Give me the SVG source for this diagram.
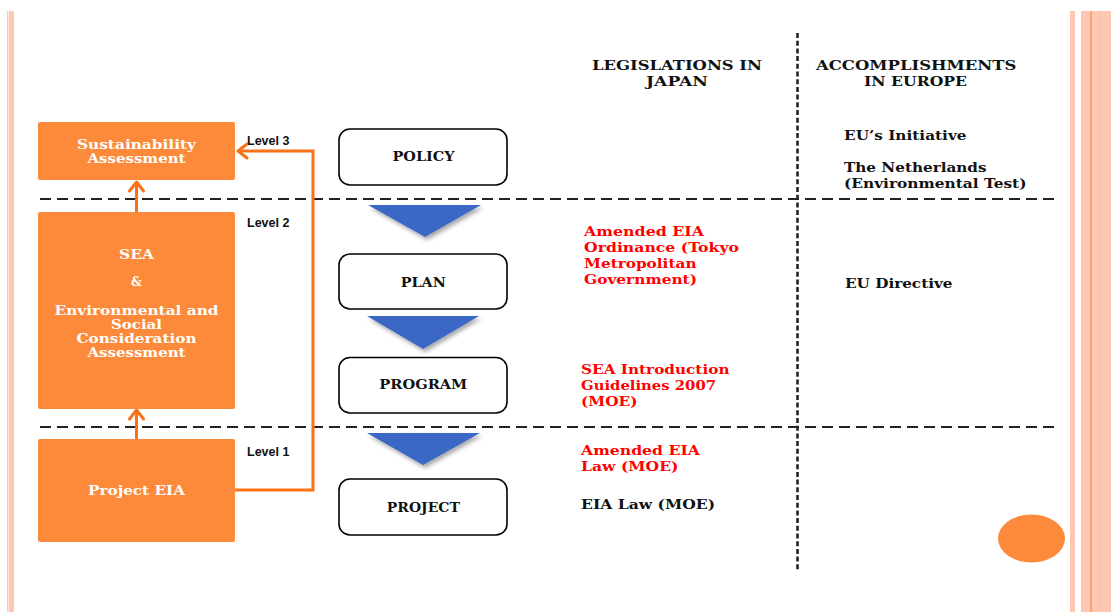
<svg xmlns="http://www.w3.org/2000/svg" width="1111" height="612" viewBox="0 0 1111 612">
<style>
.ob{fill:#FD8A3A}
.wt{font-family:"DejaVu Serif","Liberation Serif",serif;font-weight:bold;font-size:12px;fill:#FFFFFF;text-anchor:middle}
.bx{fill:#FFFFFF;stroke:#000000;stroke-width:1.6}
.bt{font-family:"DejaVu Serif","Liberation Serif",serif;font-weight:bold;font-size:13px;fill:#111111;text-anchor:middle}
.hd{font-family:"DejaVu Serif","Liberation Serif",serif;font-weight:bold;font-size:13.5px;fill:#111111}
.rd{font-family:"DejaVu Serif","Liberation Serif",serif;font-weight:bold;font-size:13.5px;fill:#FF0000}
.lv{font-family:"Liberation Sans",Arial,sans-serif;font-weight:bold;font-size:12.5px;fill:#111111}
.hdash{stroke:#222222;stroke-width:2.2;stroke-dasharray:11 6;fill:none}
.vdash{stroke:#222222;stroke-width:2.6;stroke-dasharray:5 2.7;fill:none}
.con{stroke:#F97316;stroke-width:3;fill:none}
.tri{fill:#3A67C4;filter:url(#sh)}
.st{fill:#FDC7B2}
</style>
<defs>
<marker id="chev" markerUnits="userSpaceOnUse" viewBox="-12 -10 14 20" markerWidth="14" markerHeight="20" refX="0" refY="0" orient="auto">
<path d="M-9,-7 L0,0 L-9,7" fill="none" stroke="#F97316" stroke-width="3" stroke-linecap="round" stroke-linejoin="round"/>
</marker>
<filter id="sh" x="-20%" y="-20%" width="150%" height="160%">
<feDropShadow dx="2" dy="3" stdDeviation="2" flood-color="#000000" flood-opacity="0.35"/>
</filter>
</defs>
<rect width="1111" height="612" fill="#FFFFFF"/>
<g id="stripes">
<rect class="st" x="7" y="11" width="7" height="601"/>
<rect x="8" y="11" width="1" height="601" fill="#FEE6DC"/>
<rect class="st" x="1070" y="11" width="5" height="601"/>
<rect class="st" x="1081" y="11" width="30" height="601"/>
<rect x="1090" y="11" width="2" height="601" fill="#FAA273"/>
<rect x="1099" y="11" width="1" height="601" fill="#FCBEA3"/>
</g>
<g id="dividers">
<line class="hdash" x1="40" y1="199" x2="1060" y2="199"/>
<line class="hdash" x1="40" y1="427" x2="1060" y2="427"/>
<line class="vdash" x1="797.5" y1="33" x2="797.5" y2="570"/>
</g>
<g id="connectors">
<line class="con" x1="136.5" y1="212" x2="136.5" y2="182" marker-end="url(#chev)"/>
<line class="con" x1="136.5" y1="439" x2="136.5" y2="410" marker-end="url(#chev)"/>
<path class="con" d="M235,490 H313 V151 H238" marker-end="url(#chev)"/>
<polygon class="tri" points="368,205 481,205 425,237"/>
<polygon class="tri" points="367,316 479,316 423,349"/>
<polygon class="tri" points="367,433 480,433 423,465"/>
</g>
<g id="sustainability">
<rect class="ob" x="38" y="122" width="197" height="58" rx="2"/>
<text class="wt" x="136.5" y="148.5" textLength="119" lengthAdjust="spacingAndGlyphs">Sustainability</text>
<text class="wt" x="136.5" y="163" textLength="98" lengthAdjust="spacingAndGlyphs">Assessment</text>
</g>
<g id="sea">
<rect class="ob" x="38" y="212" width="197" height="197" rx="2"/>
<text class="wt" x="136.5" y="258.5" textLength="35" lengthAdjust="spacingAndGlyphs">SEA</text>
<text class="wt" x="136.5" y="286">&amp;</text>
<text class="wt" x="136.5" y="314.5" textLength="164" lengthAdjust="spacingAndGlyphs">Environmental and</text>
<text class="wt" x="136.5" y="328.5" textLength="51" lengthAdjust="spacingAndGlyphs">Social</text>
<text class="wt" x="136.5" y="342.5" textLength="120" lengthAdjust="spacingAndGlyphs">Consideration</text>
<text class="wt" x="136.5" y="356.5" textLength="98" lengthAdjust="spacingAndGlyphs">Assessment</text>
</g>
<g id="project-eia">
<rect class="ob" x="38" y="439" width="197" height="103" rx="2"/>
<text class="wt" x="136.5" y="494.5" textLength="97" lengthAdjust="spacingAndGlyphs">Project EIA</text>
</g>
<g id="levels">
<text class="lv" x="247" y="145">Level 3</text>
<text class="lv" x="247" y="227">Level 2</text>
<text class="lv" x="247" y="456">Level 1</text>
</g>
<g id="policy">
<rect class="bx" x="339" y="129" width="168" height="56" rx="11"/>
<text class="bt" x="423.5" y="161.3" textLength="62" lengthAdjust="spacingAndGlyphs">POLICY</text>
</g>
<g id="plan">
<rect class="bx" x="339" y="254" width="168" height="55" rx="11"/>
<text class="bt" x="423.3" y="286.7" textLength="45" lengthAdjust="spacingAndGlyphs">PLAN</text>
</g>
<g id="program">
<rect class="bx" x="339" y="357.5" width="168" height="55.5" rx="11"/>
<text class="bt" x="423.3" y="388.5" textLength="88" lengthAdjust="spacingAndGlyphs">PROGRAM</text>
</g>
<g id="project">
<rect class="bx" x="339" y="479" width="168" height="56" rx="11"/>
<text class="bt" x="423.3" y="511.5" textLength="73" lengthAdjust="spacingAndGlyphs">PROJECT</text>
</g>
<g id="headers">
<text class="hd" x="592" y="69.5" textLength="170" lengthAdjust="spacingAndGlyphs">LEGISLATIONS IN</text>
<text class="hd" x="646" y="86" textLength="62" lengthAdjust="spacingAndGlyphs">JAPAN</text>
<text class="hd" x="816" y="69.5" textLength="200.5" lengthAdjust="spacingAndGlyphs">ACCOMPLISHMENTS</text>
<text class="hd" x="864" y="86" textLength="103" lengthAdjust="spacingAndGlyphs">IN EUROPE</text>
</g>
<g id="legislations">
<text class="rd" x="584" y="235.5" textLength="120" lengthAdjust="spacingAndGlyphs">Amended EIA</text>
<text class="rd" x="584" y="251.5" textLength="155" lengthAdjust="spacingAndGlyphs">Ordinance (Tokyo</text>
<text class="rd" x="584" y="267.5" textLength="112.5" lengthAdjust="spacingAndGlyphs">Metropolitan</text>
<text class="rd" x="584" y="283.5" textLength="113" lengthAdjust="spacingAndGlyphs">Government)</text>
<text class="rd" x="581" y="373.5" textLength="148.5" lengthAdjust="spacingAndGlyphs">SEA Introduction</text>
<text class="rd" x="581" y="389.5" textLength="135" lengthAdjust="spacingAndGlyphs">Guidelines 2007</text>
<text class="rd" x="581" y="405.5" textLength="56.5" lengthAdjust="spacingAndGlyphs">(MOE)</text>
<text class="rd" x="581" y="454.5" textLength="119" lengthAdjust="spacingAndGlyphs">Amended EIA</text>
<text class="rd" x="581" y="470.5" textLength="97.5" lengthAdjust="spacingAndGlyphs">Law (MOE)</text>
<text class="hd" x="581" y="508.5" textLength="134" lengthAdjust="spacingAndGlyphs">EIA Law (MOE)</text>
</g>
<g id="europe">
<text class="hd" x="844" y="140" textLength="122.5" lengthAdjust="spacingAndGlyphs">EU’s Initiative</text>
<text class="hd" x="844" y="171.5" textLength="142.5" lengthAdjust="spacingAndGlyphs">The Netherlands</text>
<text class="hd" x="844" y="187.5" textLength="182.5" lengthAdjust="spacingAndGlyphs">(Environmental Test)</text>
<text class="hd" x="845" y="288" textLength="107.5" lengthAdjust="spacingAndGlyphs">EU Directive</text>
</g>
<g id="circle">
<ellipse class="ob" cx="1031.5" cy="538.5" rx="33.5" ry="24"/>
</g>
</svg>
